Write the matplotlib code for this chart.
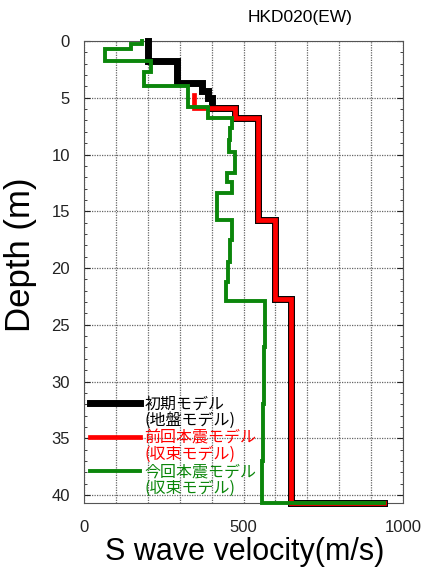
import numpy as np
import matplotlib
matplotlib.use("Agg")
import matplotlib.pyplot as plt
from matplotlib.ticker import MultipleLocator, FixedLocator

plt.rcParams['font.family'] = ['Liberation Sans', 'Noto Sans CJK JP', 'DejaVu Sans']

# layer tops (m) and S wave velocity (m/s); last layer runs to the bottom
init_top = [0, 1.8, 3.7, 4.4, 5.0, 5.9, 6.8, 15.8, 22.7]
init_vs = [200, 290, 370, 388, 402, 473, 546, 599, 649]

prev_top = [4.8, 5.9, 6.8, 15.8, 22.7]
prev_vs = [345, 473, 546, 599, 649]

curr_top = [0, 0.25, 0.7, 1.8, 2.7, 4.0, 5.8, 6.8, 7.7, 8.7, 9.8, 11.6, 12.4,
            13.4, 15.8, 17.5, 19.5, 21.2, 22.9, 27, 32, 37]
curr_vs = [181, 146, 66, 209, 189, 327, 390, 463, 458, 455, 473, 447, 463,
           416, 463, 457, 450, 444, 567, 564, 560, 557]

bottom_depth = 40.7
halfspace_vs = 940

labels = ["初期モデル\n(地盤モデル)", "前回本震モデル\n(収束モデル)", "今回本震モデル\n(収束モデル)"]
colors = ["black", "#ff0000", "#0b860b"]
widths = [5.0, 3.4, 2.8]


def stairs(top, vs):
    d, v = [], []
    bounds = list(top) + [bottom_depth]
    for i in range(len(vs)):
        d += [bounds[i], bounds[i + 1]]
        v += [vs[i], vs[i]]
    d.append(bottom_depth)
    v.append(halfspace_vs)
    return np.array(v), np.array(d)


fig = plt.figure(figsize=(4.26, 5.77), dpi=100)
ax = fig.add_axes([84 / 426, 1 - 503 / 577, 319 / 426, 462 / 577])

models = [(init_top, init_vs), (prev_top, prev_vs), (curr_top, curr_vs)]
for (top, vs), c, lw in zip(models, colors, widths):
    v, d = stairs(top, vs)
    ax.plot(v, d, color=c, lw=lw, solid_joinstyle='miter', clip_on=False, zorder=3)

ax.set_xlim(0, 1000)
ax.set_ylim(bottom_depth, 0)
ax.xaxis.set_major_locator(FixedLocator([0, 500, 1000]))
ax.xaxis.set_minor_locator(MultipleLocator(100))
ax.yaxis.set_major_locator(MultipleLocator(5))
ax.yaxis.set_minor_locator(MultipleLocator(1))
ax.tick_params(which='both', direction='in', right=True, labelsize=12, colors='#222222')
ax.tick_params(which='major', length=4)
ax.tick_params(which='minor', length=2)
ax.tick_params(axis='x', which='both', length=0, pad=12)
ax.tick_params(axis='y', which='both', pad=10)
ax.grid(which='minor', axis='x', color='#666666', ls=(0, (1, 1)), lw=0.9)
ax.grid(which='major', axis='x', color='#666666', ls=(0, (1, 1)), lw=0.9)
ax.grid(which='major', axis='y', color='#666666', ls=(0, (1, 1)), lw=0.9)
for s in ax.spines.values():
    s.set_color('#555555')
    s.set_linewidth(0.8)

ax.set_xlabel("S wave velocity(m/s)", fontsize=22)
ax.xaxis.set_label_coords(0.505, -0.106)
ax.xaxis.label.set_va('center')
ax.set_ylabel("Depth (m)", fontsize=25)
ax.yaxis.set_label_coords(-0.2, 0.537)
ax.yaxis.label.set_va('center')
ax.text(0.677, 1.05, "HKD020(EW)", transform=ax.transAxes, ha='center', va='center', fontsize=12.5)

# legend drawn by hand so the line sits beside the first text row
leg_y = [0.216, 0.143, 0.069]
for y, lab, c, lw in zip(leg_y, labels, colors, widths):
    ax.plot([0.02, 0.176], [y, y], transform=ax.transAxes, color=c, lw=lw, clip_on=False, zorder=4)
    ax.text(0.19, y + 0.016, lab, transform=ax.transAxes, color=c, fontsize=11.5,
            family=['Noto Sans CJK JP', 'DejaVu Sans'], va='top', ha='left', linespacing=0.95)

fig.savefig("out.png", dpi=100)
